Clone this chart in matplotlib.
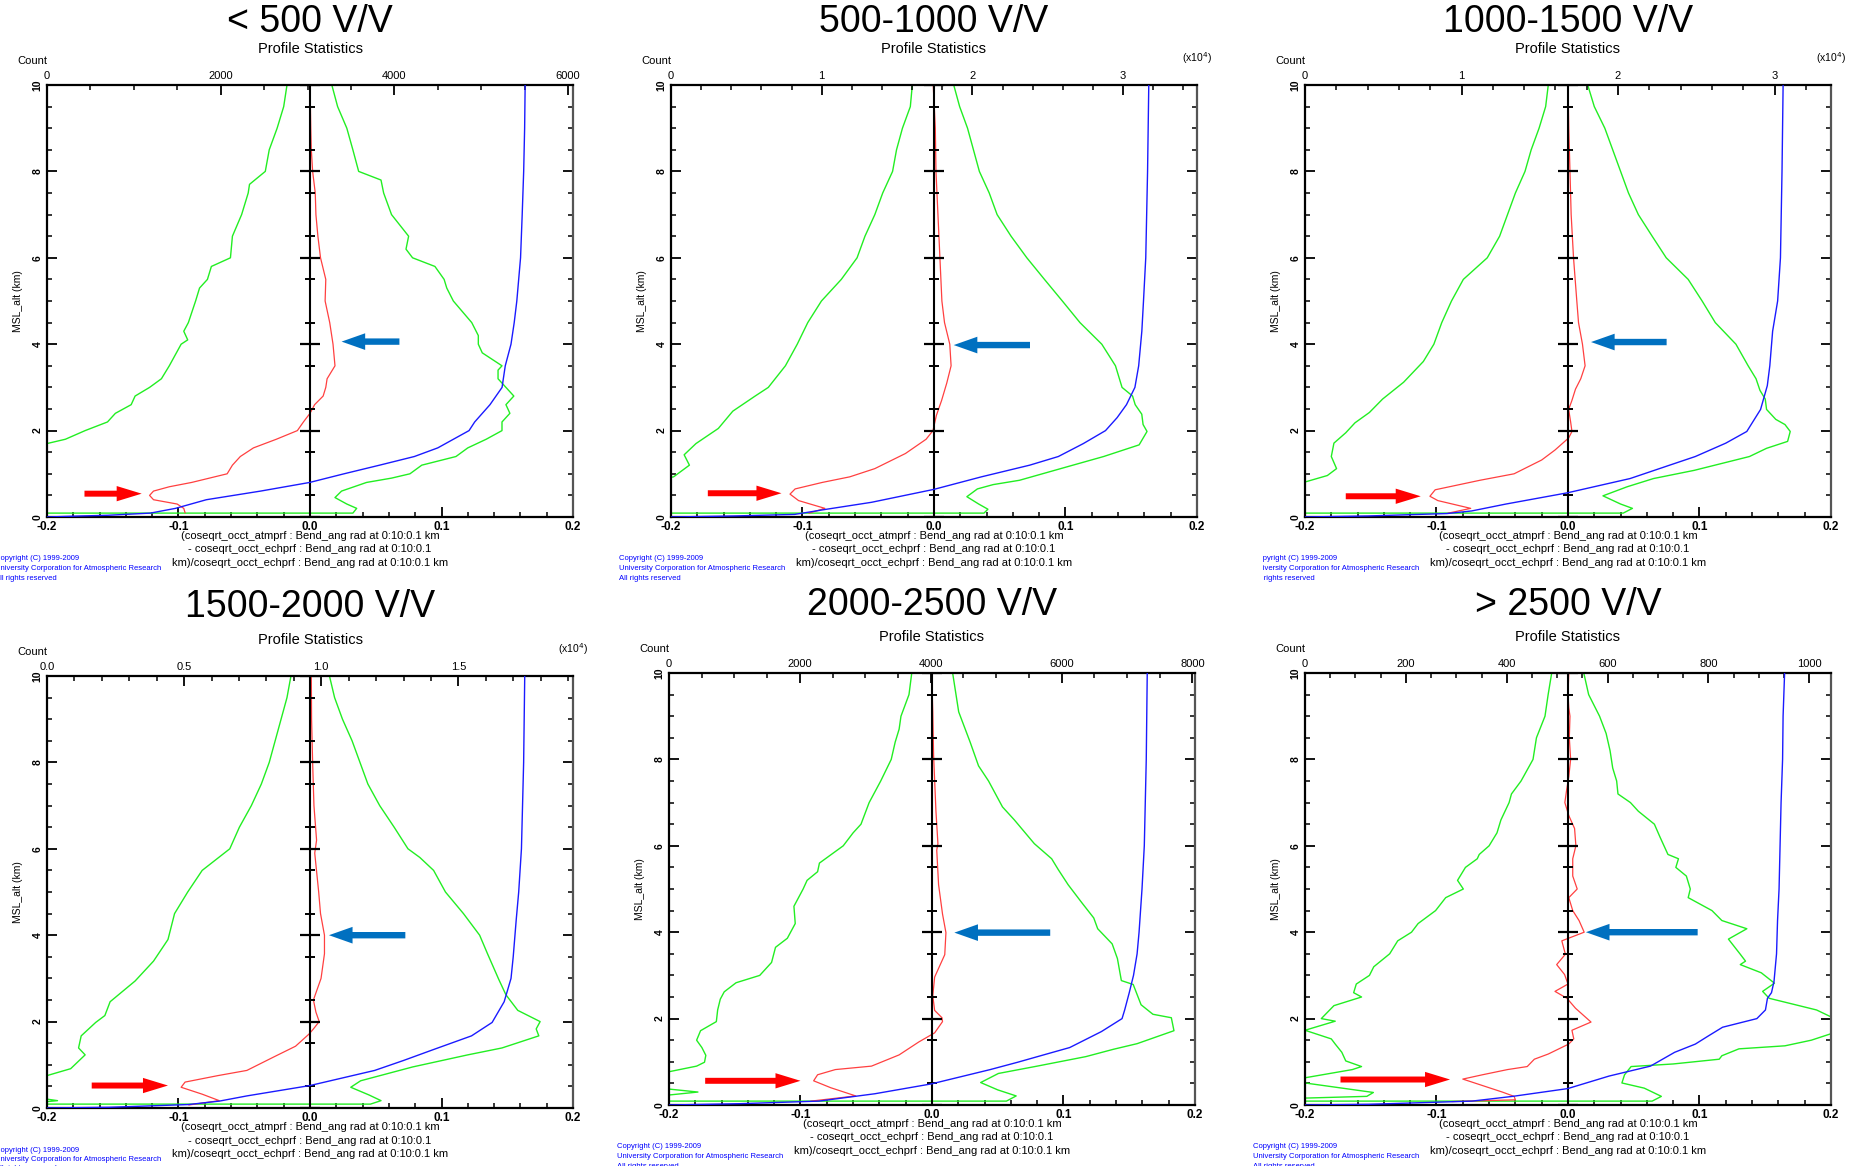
import matplotlib
matplotlib.use("Agg")
import matplotlib.pyplot as plt
import numpy as np
from matplotlib.ticker import MultipleLocator, FuncFormatter
from matplotlib.transforms import Bbox, TransformedBbox

plt.rcParams['font.family'] = ['Liberation Sans', 'DejaVu Sans']

# ---------------- data (altitude km, value) ----------------
TITLES = ["< 500 V/V", "500-1000 V/V", "1000-1500 V/V",
          "1500-2000 V/V", "2000-2500 V/V", "> 2500 V/V"]
COUNT_MAX = [6057, 34900, 33610, 19180, 8040, 1043]
COUNT_MAJOR = [2000, 10000, 10000, 5000, 2000, 200]
COUNT_MINOR = [500, 2000, 2000, 1000, 500, 50]
COUNT_DIV = [1, 1e4, 1e4, 1e4, 1, 1]
COUNT_FMT = ["{:.0f}", "{:.0f}", "{:.0f}", "{:.1f}", "{:.0f}", "{:.0f}"]
COUNT_EXP = [False, True, True, True, False, False]

P1_MEAN = [(10, 0.0), (9.5, 0.0003), (9, 0.0006), (8.5, 0.001), (8, 0.002), (7.5, 0.004), (7, 0.0045),
           (6.5, 0.006), (6, 0.008), (5.5, 0.012), (5, 0.0115), (4.5, 0.015), (4, 0.0175), (3.5, 0.019),
           (3.2, 0.013), (3.0, 0.012), (2.8, 0.010), (2.6, 0.0035), (2.4, 0.0), (2.2, -0.005), (2.0, -0.0096),
           (1.8, -0.0256), (1.6, -0.043), (1.4, -0.053), (1.2, -0.059), (1.0, -0.063), (0.8, -0.09),
           (0.7, -0.107), (0.6, -0.119), (0.5, -0.122), (0.4, -0.119), (0.3, -0.101), (0.2, -0.096), (0.1, -0.095)]
P1_LO = [(10, -0.0175), (9.5, -0.020), (9, -0.025), (8.5, -0.031), (8, -0.034), (7.7, -0.046), (7.5, -0.047),
         (7, -0.052), (6.5, -0.059), (6, -0.0605), (5.8, -0.075), (5.5, -0.078), (5.3, -0.084), (5, -0.087),
         (4.5, -0.0925), (4.3, -0.096), (4.1, -0.093), (4.0, -0.098), (3.5, -0.107), (3.2, -0.113),
         (3.0, -0.122), (2.8, -0.133), (2.6, -0.136), (2.4, -0.148), (2.2, -0.154), (2.0, -0.171),
         (1.8, -0.186), (1.7, -0.2), (1.5, -0.23), (1.0, -0.27), (0.5, -0.3)]
P1_HI = [(10, 0.0166), (9.5, 0.021), (9, 0.028), (8.5, 0.0326), (8, 0.037), (7.8, 0.054), (7.5, 0.056),
         (7, 0.062), (6.5, 0.075), (6.2, 0.073), (6, 0.078), (5.8, 0.095), (5.5, 0.102), (5.3, 0.104),
         (5, 0.109), (4.5, 0.123), (4.2, 0.128), (4.0, 0.128), (3.8, 0.131), (3.5, 0.146), (3.4, 0.143),
         (3.2, 0.143), (3.0, 0.149), (2.8, 0.155), (2.6, 0.149), (2.4, 0.152), (2.2, 0.146), (2.0, 0.146),
         (1.8, 0.134), (1.6, 0.120), (1.4, 0.111), (1.2, 0.085), (1.0, 0.076), (0.9, 0.062), (0.8, 0.043),
         (0.6, 0.024), (0.45, 0.019), (0.3, 0.028), (0.2, 0.0355), (0.09, 0.0326), (0.09, -0.35)]
P1_CNT = [(10, 5506), (9, 5500), (8, 5489), (7, 5472), (6, 5453), (5, 5410), (4.5, 5380), (4, 5343),
          (3.5, 5277), (3.0, 5240), (2.6, 5101), (2.2, 4925), (2.0, 4860), (1.8, 4680), (1.6, 4500),
          (1.4, 4230), (1.2, 3830), (1.0, 3420), (0.8, 3025), (0.6, 2460), (0.4, 1835), (0.2, 1480),
          (0.09, 1190), (0.04, 700), (0.02, 320), (0.0, 0)]

P2_MEAN = [(10, -0.0006), (9, 0.001), (8, 0.0015), (7, 0.003), (6, 0.0045), (5, 0.006), (4.5, 0.008),
           (4, 0.012), (3.5, 0.013), (3.1, 0.0097), (2.7, 0.0058), (2.35, 0.0018), (2.0, -0.0008),
           (1.8, -0.006), (1.47, -0.0217), (1.12, -0.045), (0.93, -0.064), (0.8, -0.085), (0.65, -0.1056),
           (0.53, -0.1095), (0.38, -0.103), (0.2, -0.083), (0.09, -0.095)]
P2_LO = [(10, -0.0165), (9.5, -0.018), (9, -0.024), (8.5, -0.0285), (8, -0.0315), (7.5, -0.039), (7, -0.045),
         (6.5, -0.0525), (6, -0.0585), (5.5, -0.0705), (5, -0.0856), (4.5, -0.096), (4.0, -0.104),
         (3.5, -0.113), (3.0, -0.126), (2.8, -0.136), (2.45, -0.153), (2.05, -0.164), (1.7, -0.181),
         (1.44, -0.190), (1.2, -0.186), (0.93, -0.198), (0.8, -0.22), (0.3, -0.3)]
P2_HI = [(10, 0.015), (9.5, 0.0195), (9, 0.0255), (8.5, 0.030), (8, 0.0345), (7.5, 0.042), (7, 0.048),
         (6.5, 0.0586), (6, 0.0706), (5.5, 0.084), (5, 0.0976), (4.5, 0.111), (4.0, 0.1276), (3.5, 0.138),
         (3.0, 0.143), (2.8, 0.151), (2.6, 0.153), (2.38, 0.158), (2.14, 0.159), (1.98, 0.162),
         (1.67, 0.156), (1.4, 0.129), (1.16, 0.101), (0.85, 0.065), (0.75, 0.045), (0.65, 0.033),
         (0.47, 0.025), (0.3, 0.034), (0.18, 0.041), (0.09, 0.038), (0.09, -0.35)]
P2_CNT = [(10, 31700), (8, 31620), (6, 31500), (5, 31350), (4.3, 31240), (3.5, 31030), (3.0, 30780),
          (2.6, 30220), (2.3, 29600), (2.0, 28830), (1.7, 27360), (1.4, 25700), (1.2, 23800),
          (0.93, 20600), (0.64, 17450), (0.34, 13300), (0.18, 10330), (0.06, 8200), (0.024, 4200), (0.0, 0)]

P3_MEAN = [(10, 0.0), (9, 0.0006), (8, 0.0015), (7, 0.0024), (6, 0.0042), (5, 0.0067), (4.5, 0.008),
           (4.0, 0.011), (3.5, 0.013), (3.2, 0.0097), (2.96, 0.0057), (2.7, 0.003), (2.49, 0.0005),
           (2.2, 0.002), (1.98, 0.003), (1.83, 0.0005), (1.55, -0.0099), (1.32, -0.020), (1.0, -0.041),
           (0.85, -0.067), (0.63, -0.101), (0.48, -0.105), (0.38, -0.099), (0.2, -0.074), (0.09, -0.091)]
P3_LO = [(10, -0.015), (9.5, -0.017), (9, -0.022), (8.5, -0.028), (8, -0.0327), (7.5, -0.040), (7, -0.046),
         (6.5, -0.052), (6, -0.0614), (5.5, -0.0796), (5, -0.0886), (4.5, -0.096), (4.0, -0.102),
         (3.6, -0.11), (3.12, -0.125), (2.73, -0.141), (2.42, -0.151), (2.18, -0.162), (1.95, -0.169),
         (1.71, -0.178), (1.4, -0.18), (1.12, -0.176), (0.96, -0.183), (0.81, -0.2), (0.6, -0.23), (0.2, -0.3)]
P3_HI = [(10, 0.015), (9.5, 0.020), (9, 0.028), (8.5, 0.034), (8, 0.040), (7.5, 0.046), (7, 0.0535),
         (6.5, 0.064), (6, 0.0747), (5.5, 0.0914), (5, 0.102), (4.5, 0.112), (4.0, 0.1277), (3.5, 0.137),
         (3.2, 0.143), (2.93, 0.146), (2.73, 0.150), (2.49, 0.151), (2.26, 0.158), (2.14, 0.165),
         (1.98, 0.169), (1.75, 0.167), (1.59, 0.151), (1.4, 0.138), (1.08, 0.096), (0.89, 0.065),
         (0.7, 0.045), (0.49, 0.0266), (0.3, 0.040), (0.2, 0.049), (0.09, 0.042), (0.09, -0.35)]
P3_CNT = [(10, 30550), (8, 30480), (6, 30380), (5, 30200), (4.3, 29880), (3.5, 29700), (3.04, 29540),
          (2.49, 29110), (1.98, 28230), (1.71, 26890), (1.4, 24940), (1.2, 23300), (0.89, 20770),
          (0.56, 16770), (0.3, 12840), (0.14, 10650), (0.08, 9075), (0.024, 4030), (0.0, 0)]

P4_MEAN = [(10, 0.001), (9, 0.0012), (8, 0.002), (7, 0.003), (6.2, 0.005), (5.9, 0.0036), (5, 0.0066),
           (4.5, 0.008), (4.0, 0.011), (3.57, 0.011), (3.0, 0.0084), (2.5, 0.0026), (2.22, 0.0045),
           (2.0, 0.007), (1.83, 0.0026), (1.71, -0.0008), (1.43, -0.011), (1.19, -0.027), (0.87, -0.048),
           (0.75, -0.07), (0.6, -0.095), (0.48, -0.098), (0.32, -0.082), (0.17, -0.069), (0.07, -0.092)]
P4_LO = [(10, -0.0145), (9.5, -0.0175), (9, -0.022), (8.5, -0.0265), (8, -0.031), (7.5, -0.037),
         (7, -0.0446), (6.5, -0.0537), (6, -0.061), (5.5, -0.082), (5, -0.093), (4.5, -0.103), (3.9, -0.108),
         (3.4, -0.119), (2.94, -0.133), (2.46, -0.152), (2.14, -0.156), (1.98, -0.163), (1.67, -0.174),
         (1.39, -0.176), (1.23, -0.171), (0.91, -0.182), (0.75, -0.2), (0.5, -0.23), (0.25, -0.21),
         (0.17, -0.192), (0.12, -0.21)]
P4_HI = [(10, 0.0148), (9.5, 0.0187), (9, 0.0247), (8.5, 0.032), (8, 0.038), (7.5, 0.044), (7, 0.053),
         (6.5, 0.064), (6, 0.0745), (5.8, 0.0835), (5.5, 0.094), (5, 0.103), (4.5, 0.1167), (4.0, 0.129),
         (3.57, 0.135), (2.98, 0.1435), (2.62, 0.149), (2.26, 0.158), (2.0, 0.175), (1.83, 0.172),
         (1.67, 0.174), (1.39, 0.146), (1.23, 0.12), (0.95, 0.078), (0.63, 0.0385), (0.48, 0.031),
         (0.3, 0.045), (0.17, 0.054), (0.09, 0.046), (0.09, -0.35)]
P4_CNT = [(10, 17420), (8, 17380), (6, 17300), (5, 17200), (4.36, 17110), (3.5, 17000), (3.0, 16920),
          (2.46, 16670), (1.98, 16230), (1.67, 15480), (1.35, 14080), (1.1, 13000), (0.87, 11950),
          (0.52, 9590), (0.28, 7290), (0.16, 6290), (0.08, 5160), (0.016, 2260), (0.0, 0)]

P5_MEAN = [(10, -0.0003), (9.1, 0.0006), (8.1, 0.0012), (6.8, 0.003), (6.05, 0.0045), (5.9, 0.0036),
           (5.1, 0.005), (4.42, 0.008), (3.99, 0.0106), (3.48, 0.0097), (2.96, 0.002), (2.53, 0.0006),
           (2.19, 0.002), (2.02, 0.0076), (1.93, 0.008), (1.67, 0.002), (1.46, -0.01), (1.16, -0.025),
           (0.9, -0.046), (0.82, -0.0735), (0.7, -0.087), (0.56, -0.09), (0.4, -0.077), (0.21, -0.058),
           (0.09, -0.092)]
P5_LO = [(10, -0.0154), (9.5, -0.0175), (9, -0.0236), (8.7, -0.025), (8.4, -0.028), (8, -0.031),
         (7.5, -0.039), (7, -0.0478), (6.5, -0.054), (6.3, -0.06), (6, -0.0675), (5.6, -0.0856),
         (5.4, -0.087), (5.2, -0.095), (5.0, -0.098), (4.6, -0.105), (4.2, -0.104), (3.86, -0.11),
         (3.65, -0.119), (3.3, -0.122), (3.0, -0.131), (2.83, -0.149), (2.62, -0.158), (2.45, -0.161),
         (2.2, -0.163), (1.93, -0.164), (1.72, -0.176), (1.5, -0.179), (1.33, -0.175), (1.15, -0.172),
         (0.99, -0.173), (0.9, -0.179), (0.77, -0.2), (0.5, -0.23), (0.4, -0.21), (0.3, -0.178), (0.2, -0.21)]
P5_HI = [(10, 0.0157), (9.1, 0.0203), (8.4, 0.029), (7.85, 0.0354), (7.5, 0.043), (6.9, 0.0536),
         (6.6, 0.0626), (6.05, 0.0778), (5.7, 0.091), (5.45, 0.096), (5.1, 0.1035), (4.68, 0.114),
         (4.33, 0.123), (4.08, 0.126), (3.73, 0.137), (3.39, 0.141), (2.88, 0.144), (2.79, 0.153),
         (2.32, 0.159), (2.1, 0.168), (2.02, 0.182), (1.72, 0.184), (1.42, 0.156), (1.29, 0.138),
         (1.12, 0.117), (0.9, 0.08), (0.73, 0.0505), (0.52, 0.037), (0.35, 0.05), (0.21, 0.064),
         (0.09, 0.0566), (0.09, -0.35)]
P5_CNT = [(10, 7310), (8, 7295), (6, 7265), (5, 7230), (4, 7185), (3.5, 7155), (3.0, 7100), (2.6, 7035),
          (2.2, 6965), (2.0, 6925), (1.7, 6610), (1.33, 6125), (1.2, 5820), (0.99, 5330), (0.82, 4910),
          (0.49, 4015), (0.26, 3145), (0.09, 2290), (0.03, 1075), (0.0, 0)]

P6_MEAN = [(10, 0.0006), (9.5, 0.0), (9.2, 0.0006), (9.0, 0.0015), (8.5, 0.001), (8.0, 0.002),
           (7.6, 0.0006), (7.3, -0.001), (7.0, -0.0024), (6.7, 0.0006), (6.4, 0.005), (6.0, 0.006),
           (5.7, 0.0036), (5.3, 0.0036), (5.0, 0.007), (4.8, 0.0006), (4.5, 0.0036), (4.27, 0.0084),
           (4.0, 0.0123), (3.8, -0.0047), (3.49, -0.002), (3.25, -0.0086), (3.02, -0.0026), (2.8, 0.0),
           (2.63, -0.0099), (2.47, -0.0008), (2.24, 0.0057), (1.92, 0.0175), (1.73, 0.003), (1.53, 0.0044),
           (1.41, 0.0005), (1.18, -0.015), (1.06, -0.0256), (0.89, -0.031), (0.82, -0.046), (0.7, -0.065),
           (0.6, -0.080), (0.45, -0.065), (0.3, -0.05), (0.2, -0.041), (0.12, -0.04), (0.08, -0.088)]
P6_LO = [(10, -0.0124), (9.5, -0.0151), (9.0, -0.0175), (8.5, -0.024), (8.0, -0.0266), (7.5, -0.0357),
         (7.2, -0.043), (7.0, -0.0448), (6.6, -0.051), (6.3, -0.054), (6.0, -0.060), (5.8, -0.0675),
         (5.7, -0.069), (5.5, -0.078), (5.2, -0.084), (5.0, -0.0796), (4.8, -0.093), (4.5, -0.1007),
         (4.2, -0.114), (4.0, -0.119), (3.8, -0.1295), (3.5, -0.1356), (3.2, -0.1477), (3.0, -0.151),
         (2.8, -0.161), (2.6, -0.163), (2.5, -0.157), (2.3, -0.178), (2.0, -0.1876), (1.94, -0.177),
         (1.73, -0.2), (1.53, -0.18), (1.41, -0.177), (1.22, -0.172), (1.02, -0.169), (0.89, -0.157),
         (0.82, -0.164), (0.63, -0.2), (0.57, -0.22), (0.51, -0.2), (0.29, -0.148), (0.2, -0.153),
         (0.16, -0.2), (0.12, -0.22)]
P6_HI = [(10, 0.012), (9.5, 0.0157), (9.0, 0.024), (8.6, 0.029), (8.2, 0.032), (7.8, 0.034), (7.5, 0.037),
         (7.2, 0.038), (7.0, 0.0475), (6.8, 0.0535), (6.5, 0.0657), (6.2, 0.070), (6.0, 0.073), (5.8, 0.076),
         (5.7, 0.084), (5.5, 0.082), (5.3, 0.090), (5.0, 0.093), (4.8, 0.0914), (4.5, 0.1095), (4.27, 0.117),
         (4.08, 0.136), (3.84, 0.122), (3.49, 0.131), (3.33, 0.135), (3.25, 0.131), (3.06, 0.147),
         (2.82, 0.157), (2.63, 0.148), (2.47, 0.153), (2.2, 0.189), (2.04, 0.2), (1.85, 0.235), (1.65, 0.2),
         (1.5, 0.185), (1.37, 0.165), (1.3, 0.13), (1.14, 0.117), (1.06, 0.115), (0.95, 0.08), (0.89, 0.048),
         (0.7, 0.043), (0.51, 0.041), (0.39, 0.058), (0.2, 0.071), (0.09, 0.064), (0.09, -0.35)]
P6_CNT = [(10, 951), (9, 948), (8, 947), (7, 944), (6, 942), (5, 940), (4.27, 937), (3.5, 935), (2.86, 930),
          (2.6, 925), (2.47, 917), (2.2, 913), (2.0, 896), (1.9, 862), (1.8, 828), (1.6, 800), (1.41, 774),
          (1.22, 733), (0.9, 685), (0.67, 603), (0.38, 521), (0.2, 412), (0.09, 331), (0.016, 126), (0.0, 0)]

MEANS = [P1_MEAN, P2_MEAN, P3_MEAN, P4_MEAN, P5_MEAN, P6_MEAN]
LOS = [P1_LO, P2_LO, P3_LO, P4_LO, P5_LO, P6_LO]
HIS = [P1_HI, P2_HI, P3_HI, P4_HI, P5_HI, P6_HI]
CNTS = [P1_CNT, P2_CNT, P3_CNT, P4_CNT, P5_CNT, P6_CNT]

# arrow annotations: (tail_x, tip_x, altitude)
RED_ARROWS = [(-0.1715, -0.128, 0.54), (-0.172, -0.116, 0.55), (-0.169, -0.112, 0.48),
              (-0.166, -0.108, 0.52), (-0.1725, -0.100, 0.56), (-0.173, -0.0897, 0.59)]
BLUE_ARROWS = [(0.068, 0.024, 4.06), (0.073, 0.015, 3.98), (0.075, 0.0175, 4.05),
               (0.0725, 0.0144, 4.0), (0.0899, 0.017, 3.99), (0.0986, 0.0136, 4.0)]

XLABEL = ["(coseqrt_occt_atmprf : Bend_ang rad at 0:10:0.1 km",
          "- coseqrt_occt_echprf : Bend_ang rad at 0:10:0.1",
          "km)/coseqrt_occt_echprf : Bend_ang rad at 0:10:0.1 km"]
COPYRIGHT = ["Copyright (C) 1999-2009", "University Corporation for Atmospheric Research",
             "All rights reserved"]

# ---------------- layout (figure pixels, from top-left) ----------------
W, H = 1874, 1166
RECTS = [(47, 85, 573, 517), (671, 85, 1197, 517), (1305, 85, 1831, 517),
         (47, 676, 573, 1108), (669, 673, 1195, 1105), (1305, 673, 1831, 1105)]
TITLE_Y = [22, 22, 22, 607, 605, 605]
COPY_CLIP_LEFT = [0, 0, 1263, 0, 0, 0]

GREEN = '#22ee22'
RED = '#ff4040'
BLUE = '#1a1aff'

fig = plt.figure(figsize=(W / 100, H / 100), dpi=100)
fig.patch.set_facecolor('white')


def ftext(x, y, s, **kw):
    return fig.text(x / W, 1 - y / H, s, **kw)


def xy(p):
    a = np.array(p, dtype=float)
    return a[:, 1], a[:, 0]


def fmt_frac(v, pos):
    if abs(v) < 1e-9:
        return "0.0"
    return f"{v:.1f}"


MAJ_Y = np.arange(0, 11, 2)
MIN_Y = np.arange(1, 20, 2) * 0.5

for i in range(6):
    l, t, r, b = RECTS[i]
    ax = fig.add_axes([l / W, 1 - b / H, (r - l) / W, (b - t) / H])
    ax.set_xlim(-0.2, 0.2)
    ax.set_ylim(0, 10)

    x, y = xy(LOS[i]); ax.plot(x, y, color=GREEN, lw=1.0, zorder=2)
    x, y = xy(HIS[i]); ax.plot(x, y, color=GREEN, lw=1.0, zorder=2)
    x, y = xy(MEANS[i]); ax.plot(x, y, color=RED, lw=0.9, zorder=3)

    # central zero axis with ticks
    ax.axvline(0, color='k', lw=1.5, zorder=4)
    ax.plot(np.zeros(len(MAJ_Y)), MAJ_Y, ls='none', marker='_', ms=14, mew=1.6, color='k', zorder=4)
    ax.plot(np.zeros(len(MIN_Y)), MIN_Y, ls='none', marker='_', ms=7, mew=1.4, color='k', zorder=4)

    for side in ['left', 'bottom', 'top', 'right']:
        ax.spines[side].set_linewidth(1.6)
    ax.spines['right'].set_color('#555555')

    ax.xaxis.set_major_locator(MultipleLocator(0.1))
    ax.xaxis.set_minor_locator(MultipleLocator(0.02))
    ax.xaxis.set_major_formatter(FuncFormatter(fmt_frac))
    ax.tick_params(axis='x', which='both', direction='in', top=False, bottom=True, color='k')
    ax.tick_params(axis='x', which='major', length=7.5, width=1.3, labelsize=8.5, pad=3)
    ax.tick_params(axis='x', which='minor', length=3.8, width=1.1)
    ax.yaxis.set_major_locator(MultipleLocator(2))
    ax.yaxis.set_minor_locator(MultipleLocator(0.5))
    ax.tick_params(axis='y', which='both', direction='in', left=True, right=True)
    ax.tick_params(axis='y', which='major', length=7.5, width=1.3, labelsize=7.5, pad=3, labelrotation=90)
    ax.tick_params(axis='y', which='minor', length=3.8, width=1.1)
    for lab in ax.get_xticklabels():
        lab.set_fontweight('bold')
    for lab in ax.get_yticklabels():
        lab.set_fontweight('bold')
        lab.set_va('center')

    # count axis
    ax2 = ax.twiny()
    ax2.set_xlim(0, COUNT_MAX[i])
    x, y = xy(CNTS[i]); ax2.plot(x, y, color=BLUE, lw=1.0, zorder=3)
    ax2.xaxis.set_major_locator(MultipleLocator(COUNT_MAJOR[i]))
    ax2.xaxis.set_minor_locator(MultipleLocator(COUNT_MINOR[i]))
    div = COUNT_DIV[i]; f = COUNT_FMT[i]
    ax2.xaxis.set_major_formatter(FuncFormatter(lambda v, p, div=div, f=f: f.format(v / div)))
    ax2.tick_params(axis='x', which='both', direction='in', top=True, bottom=False,
                    labeltop=True, labelbottom=False)
    ax2.tick_params(axis='x', which='major', length=7.5, width=1.3, labelsize=8, pad=3)
    ax2.tick_params(axis='x', which='minor', length=3.8, width=1.1)
    for s in ax2.spines.values():
        s.set_visible(False)

    # arrows
    tx, hx, ay = RED_ARROWS[i]
    ax2.annotate('', xy=(hx, ay), xytext=(tx, ay), xycoords=ax.transData, textcoords=ax.transData,
                 arrowprops=dict(arrowstyle='simple,head_length=18,head_width=11,tail_width=4.3',
                                 color='#ff0000', lw=0, shrinkA=0, shrinkB=0, mutation_scale=1))
    tx, hx, ay = BLUE_ARROWS[i]
    ax2.annotate('', xy=(hx, ay), xytext=(tx, ay), xycoords=ax.transData, textcoords=ax.transData,
                 arrowprops=dict(arrowstyle='simple,head_length=17,head_width=12,tail_width=4.6',
                                 color='#0070c0', lw=0, shrinkA=0, shrinkB=0, mutation_scale=1))

    cx = (l + r) / 2
    tt = ftext(cx, TITLE_Y[i], TITLES[i], fontsize=27, ha='center', va='center')
    if i == 1:
        tt.set_clip_box(TransformedBbox(Bbox([[0, 1 - 33 / H], [1, 1]]), fig.transFigure))
        tt.set_clip_on(True)
    ftext(cx, t - 36, "Profile Statistics", fontsize=10.5, ha='center', va='center')
    ftext(l - 30, t - 24, "Count", fontsize=8, ha='left', va='center')
    if COUNT_EXP[i]:
        ftext(r, t - 27, r"(x10$^4$)", fontsize=7.5, ha='center', va='center')
    ftext(l - 29, (t + b) / 2, "MSL_alt (km)", fontsize=7.5, rotation=90, ha='center', va='center')
    for k, line in enumerate(XLABEL):
        ftext(cx, b + 19 + 13.5 * k, line, fontsize=8, ha='center', va='center')
    for k, line in enumerate(COPYRIGHT):
        ct = ftext(l - 52, b + 42 + 9.5 * k, line, fontsize=5.5, color='#0000ff', ha='left', va='center')
        if COPY_CLIP_LEFT[i]:
            ct.set_clip_box(TransformedBbox(Bbox([[COPY_CLIP_LEFT[i] / W, 0], [1, 1]]), fig.transFigure))
            ct.set_clip_on(True)

fig.savefig("out.png", dpi=100, facecolor='white')
